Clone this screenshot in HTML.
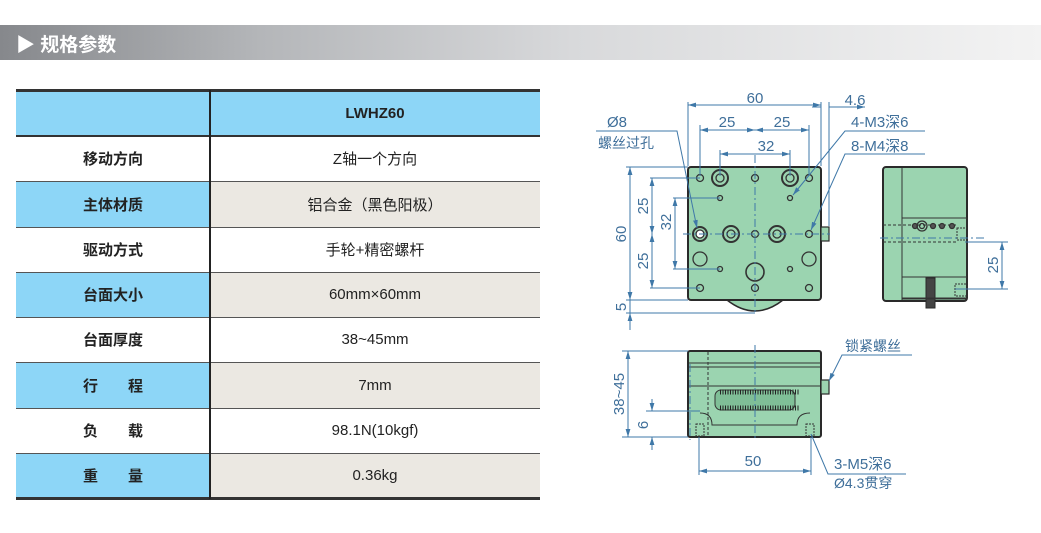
<!DOCTYPE html>
<html><head><meta charset="utf-8">
<style>
body{margin:0;width:1041px;height:533px;background:#fff;position:relative;overflow:hidden;font-family:"Liberation Sans","Noto Sans CJK SC",sans-serif;}
.band{position:absolute;left:0;top:25px;width:1041px;height:35px;background:linear-gradient(to right,#86888c 0%,#b4b6b9 25%,#d8d9db 55%,#f3f3f3 100%);}
.band span{position:absolute;left:16px;top:5px;color:#fff;font-weight:bold;font-size:19px;}
.c{position:absolute;display:flex;align-items:center;justify-content:center;font-size:15px;color:#222;}
.l{font-weight:bold;}
.hl{position:absolute;left:16px;width:524px;background:#333;}
</style></head><body>
<div class="band"><span>▶ 规格参数</span></div>

<div class="c" style="left:16px;top:90px;width:194px;height:46px;background:#8dd6f7"></div>
<div class="c l" style="left:210px;top:90px;width:330px;height:46px;background:#8dd6f7">LWHZ60</div>

<div class="c l" style="left:16px;top:136px;width:194px;height:45px;">移动方向</div>
<div class="c" style="left:210px;top:136px;width:330px;height:45px;">Z轴一个方向</div>
<div class="c l" style="left:16px;top:181px;width:194px;height:46px;background:#8dd6f7">主体材质</div>
<div class="c" style="left:210px;top:181px;width:330px;height:46px;background:#ebe8e2">铝合金（黑色阳极）</div>
<div class="c l" style="left:16px;top:227px;width:194px;height:45px;">驱动方式</div>
<div class="c" style="left:210px;top:227px;width:330px;height:45px;">手轮+精密螺杆</div>
<div class="c l" style="left:16px;top:272px;width:194px;height:45px;background:#8dd6f7">台面大小</div>
<div class="c" style="left:210px;top:272px;width:330px;height:45px;background:#ebe8e2">60mm×60mm</div>
<div class="c l" style="left:16px;top:317px;width:194px;height:45px;">台面厚度</div>
<div class="c" style="left:210px;top:317px;width:330px;height:45px;">38~45mm</div>
<div class="c l" style="left:16px;top:362px;width:194px;height:46px;background:#8dd6f7">行&emsp;&emsp;程</div>
<div class="c" style="left:210px;top:362px;width:330px;height:46px;background:#ebe8e2">7mm</div>
<div class="c l" style="left:16px;top:408px;width:194px;height:45px;">负&emsp;&emsp;载</div>
<div class="c" style="left:210px;top:408px;width:330px;height:45px;">98.1N(10kgf)</div>
<div class="c l" style="left:16px;top:453px;width:194px;height:45px;background:#8dd6f7">重&emsp;&emsp;量</div>
<div class="c" style="left:210px;top:453px;width:330px;height:45px;background:#ebe8e2">0.36kg</div>

<div class="hl" style="top:89px;height:3px"></div>
<div class="hl" style="top:135px;height:2px"></div>
<div class="hl" style="top:181px;height:1px;background:#555"></div>
<div class="hl" style="top:227px;height:1px;background:#555"></div>
<div class="hl" style="top:272px;height:1px;background:#555"></div>
<div class="hl" style="top:317px;height:1px;background:#555"></div>
<div class="hl" style="top:362px;height:1px;background:#555"></div>
<div class="hl" style="top:408px;height:1px;background:#555"></div>
<div class="hl" style="top:453px;height:1px;background:#555"></div>
<div class="hl" style="top:497px;height:3px"></div>
<div style="position:absolute;left:209px;top:90px;width:2px;height:409px;background:#222"></div>

<svg width="1041" height="533" style="position:absolute;left:0;top:0" xmlns="http://www.w3.org/2000/svg">
<defs><marker id="a" viewBox="0 0 10 6" refX="10" refY="3" markerWidth="8" markerHeight="5" orient="auto-start-reverse"><path d="M0,0L10,3L0,6z" fill="#3f78a8"/></marker></defs>
<g fill="#9bd4b0" stroke="#2a2a2a" stroke-width="2">
<path d="M727,300 Q755,322 783,300Z" stroke-width="1.5"/>
<rect x="688" y="167" width="133" height="133" rx="3"/>
<rect x="883" y="167" width="84" height="134" rx="3"/>
<rect x="688" y="351" width="133" height="86" rx="2"/>
<rect x="821" y="380" width="8" height="14" stroke-width="1.2"/>
<rect x="821" y="227" width="8" height="14" stroke-width="1.2"/>
<rect x="926" y="278" width="9" height="30" fill="#444" stroke-width="1"/>
</g>
<g fill="none" stroke="#333" stroke-width="1">
<line x1="902" y1="168" x2="902" y2="300"/>
<rect x="902" y="218" width="65" height="80"/>
<rect x="902" y="277" width="65" height="22"/>
<line x1="883" y1="242" x2="957" y2="242" stroke-dasharray="3,2"/>
<line x1="883" y1="225" x2="957" y2="225" stroke-dasharray="3,2"/>
<rect x="957" y="228" width="10" height="12" stroke-dasharray="2,1"/>
<rect x="955" y="284" width="12" height="12" stroke-dasharray="2,1"/>
<line x1="689" y1="363" x2="820" y2="363"/><line x1="689" y1="367" x2="820" y2="367"/>
<line x1="689" y1="386" x2="820" y2="386"/>
<line x1="708" y1="352" x2="708" y2="436" stroke-dasharray="3,2"/>
<rect x="715" y="390" width="80" height="20" rx="6" fill="#7fbf97"/>
<path d="M720,392 L800,392 M720,408 L800,408" stroke="#222" stroke-width="5" stroke-dasharray="1,1.5"/>
<path d="M700,413 Q712,413 712,425 L797,425 Q797,413 810,413" />
<rect x="696" y="424" width="8" height="12" stroke-dasharray="2,1"/>
<rect x="806" y="424" width="8" height="12" stroke-dasharray="2,1"/>
</g>
<g fill="none" stroke="#333" stroke-width="1.3">
<circle cx="700" cy="178" r="3.5"/><circle cx="755" cy="178" r="3.5"/><circle cx="809" cy="178" r="3.5"/>
<circle cx="700" cy="288" r="3.5"/><circle cx="755" cy="288" r="3.5"/><circle cx="809" cy="288" r="3.5"/>
<circle cx="755" cy="234" r="3.5"/><circle cx="809" cy="234" r="3.5"/>
<circle cx="720" cy="198" r="2.5"/><circle cx="790" cy="198" r="2.5"/><circle cx="720" cy="269" r="2.5"/><circle cx="790" cy="269" r="2.5"/>
<circle cx="720" cy="178" r="8" stroke-width="2"/><circle cx="720" cy="178" r="4"/>
<circle cx="790" cy="178" r="8" stroke-width="2"/><circle cx="790" cy="178" r="4"/>
<circle cx="700" cy="234" r="7" stroke-width="2"/><circle cx="700" cy="234" r="4" fill="#fff"/>
<circle cx="731" cy="234" r="8" stroke-width="2"/><circle cx="731" cy="234" r="4"/>
<circle cx="777" cy="234" r="8" stroke-width="2"/><circle cx="777" cy="234" r="4"/>
<circle cx="700" cy="259" r="7"/><circle cx="809" cy="259" r="7"/><circle cx="755" cy="272" r="9" stroke-width="1.6"/>
<circle cx="915" cy="226" r="2.5" fill="#555"/><circle cx="922" cy="226" r="5"/><circle cx="922" cy="226" r="2.5"/>
<circle cx="933" cy="226" r="2.5" fill="#555"/><circle cx="942" cy="226" r="2.5" fill="#555"/><circle cx="952" cy="226" r="2.5" fill="#555"/>
</g>
<g stroke="#3f78a8" stroke-width="1" fill="none">
<path d="M755,155V315M683,234H830M690,364V440M755,345V440M880,238H985" stroke-dasharray="8,3,2,3"/>
<path d="M688,102V166M821,102V166M829,102V226M700,125V176M809,125V176M720,150V176M790,150V176"/>
<line x1="688" y1="105" x2="821" y2="105" marker-start="url(#a)" marker-end="url(#a)"/>
<line x1="700" y1="130" x2="755" y2="130" marker-start="url(#a)" marker-end="url(#a)"/>
<line x1="755" y1="130" x2="809" y2="130" marker-start="url(#a)" marker-end="url(#a)"/>
<line x1="720" y1="154" x2="790" y2="154" marker-start="url(#a)" marker-end="url(#a)"/>
<path d="M821,107H812M829,107H865" marker-end="url(#a)"/>
<path d="M626,167H688M650,178H700M673,198H720M673,269H720M650,288H700M626,300H688M626,313H755"/>
<line x1="630" y1="167" x2="630" y2="300" marker-start="url(#a)" marker-end="url(#a)"/>
<line x1="652" y1="178" x2="652" y2="234" marker-start="url(#a)" marker-end="url(#a)"/>
<line x1="652" y1="234" x2="652" y2="288" marker-start="url(#a)" marker-end="url(#a)"/>
<line x1="675" y1="198" x2="675" y2="269" marker-start="url(#a)" marker-end="url(#a)"/>
<path d="M630,300V325"/>
<line x1="630" y1="330" x2="630" y2="313" marker-end="url(#a)"/>
<path d="M596,131H677L697,228" marker-end="url(#a)"/>
<path d="M925,131H845L793,195" marker-end="url(#a)"/>
<path d="M925,154H845L811,230" marker-end="url(#a)"/>
<path d="M965,242H1008M955,289H1008"/>
<line x1="1002" y1="242" x2="1002" y2="289" marker-start="url(#a)" marker-end="url(#a)"/>
<path d="M622,351H688M646,411H700M622,437H688"/>
<line x1="628" y1="351" x2="628" y2="437" marker-start="url(#a)" marker-end="url(#a)"/>
<path d="M652,410V399"/><line x1="652" y1="400" x2="652" y2="411" marker-end="url(#a)"/>
<line x1="652" y1="450" x2="652" y2="437" marker-end="url(#a)"/>
<path d="M699,437V475M811,437V475"/>
<line x1="699" y1="471" x2="811" y2="471" marker-start="url(#a)" marker-end="url(#a)"/>
<path d="M912,355H842L829,381" marker-end="url(#a)"/>
<path d="M906,474H828L811,434"/>
</g>
<g fill="#3f6f9a" font-size="15" font-family="Liberation Sans,Noto Sans CJK SC,sans-serif">
<text x="755" y="103" text-anchor="middle">60</text>
<text x="855" y="105" text-anchor="middle">4.6</text>
<text x="727" y="127" text-anchor="middle">25</text>
<text x="782" y="127" text-anchor="middle">25</text>
<text x="766" y="151" text-anchor="middle">32</text>
<text x="607" y="127">Ø8</text>
<text x="598" y="148" font-size="14">螺丝过孔</text>
<text x="851" y="127">4-M3深6</text>
<text x="851" y="151">8-M4深8</text>
<text transform="translate(626,234) rotate(-90)" text-anchor="middle">60</text>
<text transform="translate(648,206) rotate(-90)" text-anchor="middle">25</text>
<text transform="translate(648,261) rotate(-90)" text-anchor="middle">25</text>
<text transform="translate(671,222) rotate(-90)" text-anchor="middle">32</text>
<text transform="translate(626,307) rotate(-90)" text-anchor="middle">5</text>
<text transform="translate(998,265) rotate(-90)" text-anchor="middle">25</text>
<text x="845" y="351" font-size="14">锁紧螺丝</text>
<text transform="translate(624,394) rotate(-90)" text-anchor="middle">38~45</text>
<text transform="translate(648,425) rotate(-90)" text-anchor="middle">6</text>
<text x="753" y="466" text-anchor="middle">50</text>
<text x="834" y="469">3-M5深6</text>
<text x="834" y="488" font-size="14">Ø4.3贯穿</text>
</g>
</svg>
</body></html>
